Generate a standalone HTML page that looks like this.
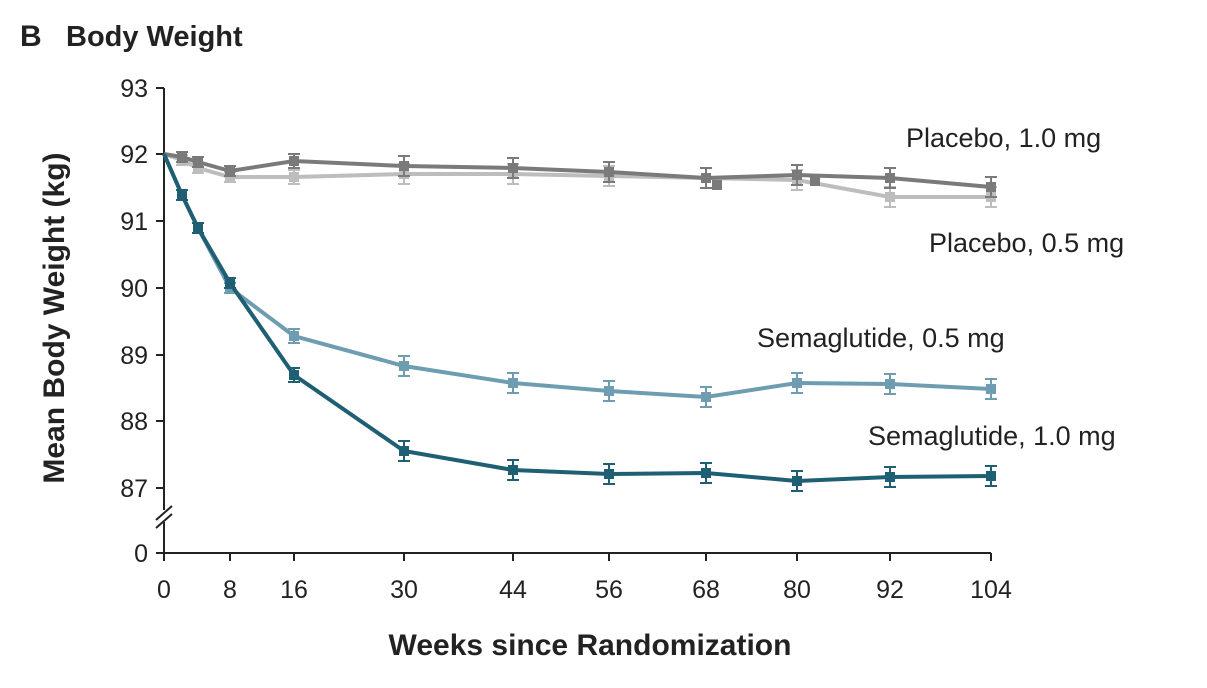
<!DOCTYPE html><html><head><style>body{margin:0;background:#fff}svg{display:block;font-family:"Liberation Sans","DejaVu Sans",sans-serif}</style></head><body>
<svg width="1207" height="688" viewBox="0 0 1207 688" xmlns="http://www.w3.org/2000/svg">
<text x="20" y="46" font-size="30" font-weight="bold" fill="#222">B</text>
<text x="66" y="46" font-size="29" font-weight="bold" fill="#222">Body Weight</text>
<g stroke="#222" stroke-width="2" fill="none">
<path d="M164,88V510M164,522V553H991"/>
<path d="M156,520L172,506M156,528L172,514"/>
<path d="M156,88H164M156,154H164M156,221H164M156,288H164M156,355H164M156,421H164M156,488H164M156,553H164"/>
<path d="M164,553v8M230,553v8M294,553v8M404,553v8M513,553v8M609,553v8M706,553v8M797,553v8M890,553v8M991,553v8"/>
</g>
<g font-size="25" fill="#222" text-anchor="end">
<text x="148" y="97">93</text><text x="148" y="163">92</text><text x="148" y="230">91</text><text x="148" y="297">90</text><text x="148" y="364">89</text><text x="148" y="430">88</text><text x="148" y="497">87</text><text x="148" y="562">0</text>
</g>
<g font-size="25" fill="#222" text-anchor="middle">
<text x="164" y="598">0</text><text x="230" y="598">8</text><text x="294" y="598">16</text><text x="404" y="598">30</text><text x="513" y="598">44</text><text x="609" y="598">56</text><text x="706" y="598">68</text><text x="797" y="598">80</text><text x="890" y="598">92</text><text x="991" y="598">104</text>
</g>
<text x="590" y="655" font-size="30" font-weight="bold" fill="#222" text-anchor="middle">Weeks since Randomization</text>
<text transform="translate(64,318) rotate(-90)" font-size="30" font-weight="bold" fill="#222" text-anchor="middle">Mean Body Weight (kg)</text>
<g font-size="27" fill="#222">
<text x="906" y="147">Placebo, 1.0 mg</text>
<text x="929" y="252">Placebo, 0.5 mg</text>
<text x="757" y="347">Semaglutide, 0.5 mg</text>
<text x="868" y="445">Semaglutide, 1.0 mg</text>
</g>

<g stroke="#bdbdbd" fill="none">
<polyline stroke-width="4" points="164,154 182,160 198,168 230,177 294,177 404,174 513,174 609,176 706,178 797,180 890,197 991,197"/>
<path stroke-width="2" d="M182,155V165M176,155h12M176,165h12M198,163V173M192,163h12M192,173h12M230,172V182M224,172h12M224,182h12M294,170V184M288,170h12M288,184h12M404,164V184M398,164h12M398,184h12M513,164V184M507,164h12M507,184h12M609,166V186M603,166h12M603,186h12M706,168V188M700,168h12M700,188h12M797,170V190M791,170h12M791,190h12M890,187V207M884,187h12M884,207h12M991,187V207M985,187h12M985,207h12"/>
<path stroke-width="10" stroke-linecap="square" d="M182,160h0M198,168h0M230,177h0M294,177h0M404,174h0M513,174h0M609,176h0M706,178h0M797,180h0M890,197h0M991,197h0"/>
</g>

<g stroke="#7a7a7a" fill="none">
<polyline stroke-width="4" points="164,154 182,157 198,162 230,171 294,161 404,166 513,168 609,172 706,178 797,175 890,178 991,187"/>
<path stroke-width="2" d="M182,152V162M176,152h12M176,162h12M198,157V167M192,157h12M192,167h12M230,166V176M224,166h12M224,176h12M294,154V168M288,154h12M288,168h12M404,156V176M398,156h12M398,176h12M513,158V178M507,158h12M507,178h12M609,162V182M603,162h12M603,182h12M706,168V188M700,168h12M700,188h12M797,165V185M791,165h12M791,185h12M890,168V188M884,168h12M884,188h12M991,177V197M985,177h12M985,197h12"/>
<path stroke-width="10" stroke-linecap="square" d="M182,157h0M198,162h0M230,171h0M294,161h0M404,166h0M513,168h0M609,172h0M706,178h0M797,175h0M890,178h0M991,187h0M717,185h0M815,181h0"/>
</g>

<g stroke="#6e9db2" fill="none">
<polyline stroke-width="4" points="164,154 182,195 198,228 230,288 294,336 404,366 513,383 609,391 706,397 797,383 890,384 991,389"/>
<path stroke-width="2" d="M182,190V200M176,190h12M176,200h12M198,223V233M192,223h12M192,233h12M230,283V293M224,283h12M224,293h12M294,329V343M288,329h12M288,343h12M404,356V376M398,356h12M398,376h12M513,373V393M507,373h12M507,393h12M609,381V401M603,381h12M603,401h12M706,387V407M700,387h12M700,407h12M797,373V393M791,373h12M791,393h12M890,374V394M884,374h12M884,394h12M991,379V399M985,379h12M985,399h12"/>
<path stroke-width="10" stroke-linecap="square" d="M182,195h0M198,228h0M230,288h0M294,336h0M404,366h0M513,383h0M609,391h0M706,397h0M797,383h0M890,384h0M991,389h0"/>
</g>

<g stroke="#1e5f73" fill="none">
<polyline stroke-width="4" points="164,154 182,195 198,228 230,283 294,375 404,451 513,470 609,474 706,473 797,481 890,477 991,476"/>
<path stroke-width="2" d="M182,190V200M176,190h12M176,200h12M198,223V233M192,223h12M192,233h12M230,278V288M224,278h12M224,288h12M294,368V382M288,368h12M288,382h12M404,441V461M398,441h12M398,461h12M513,460V480M507,460h12M507,480h12M609,464V484M603,464h12M603,484h12M706,463V483M700,463h12M700,483h12M797,471V491M791,471h12M791,491h12M890,467V487M884,467h12M884,487h12M991,466V486M985,466h12M985,486h12"/>
<path stroke-width="10" stroke-linecap="square" d="M182,195h0M198,228h0M230,283h0M294,375h0M404,451h0M513,470h0M609,474h0M706,473h0M797,481h0M890,477h0M991,476h0"/>
</g>
</svg></body></html>
